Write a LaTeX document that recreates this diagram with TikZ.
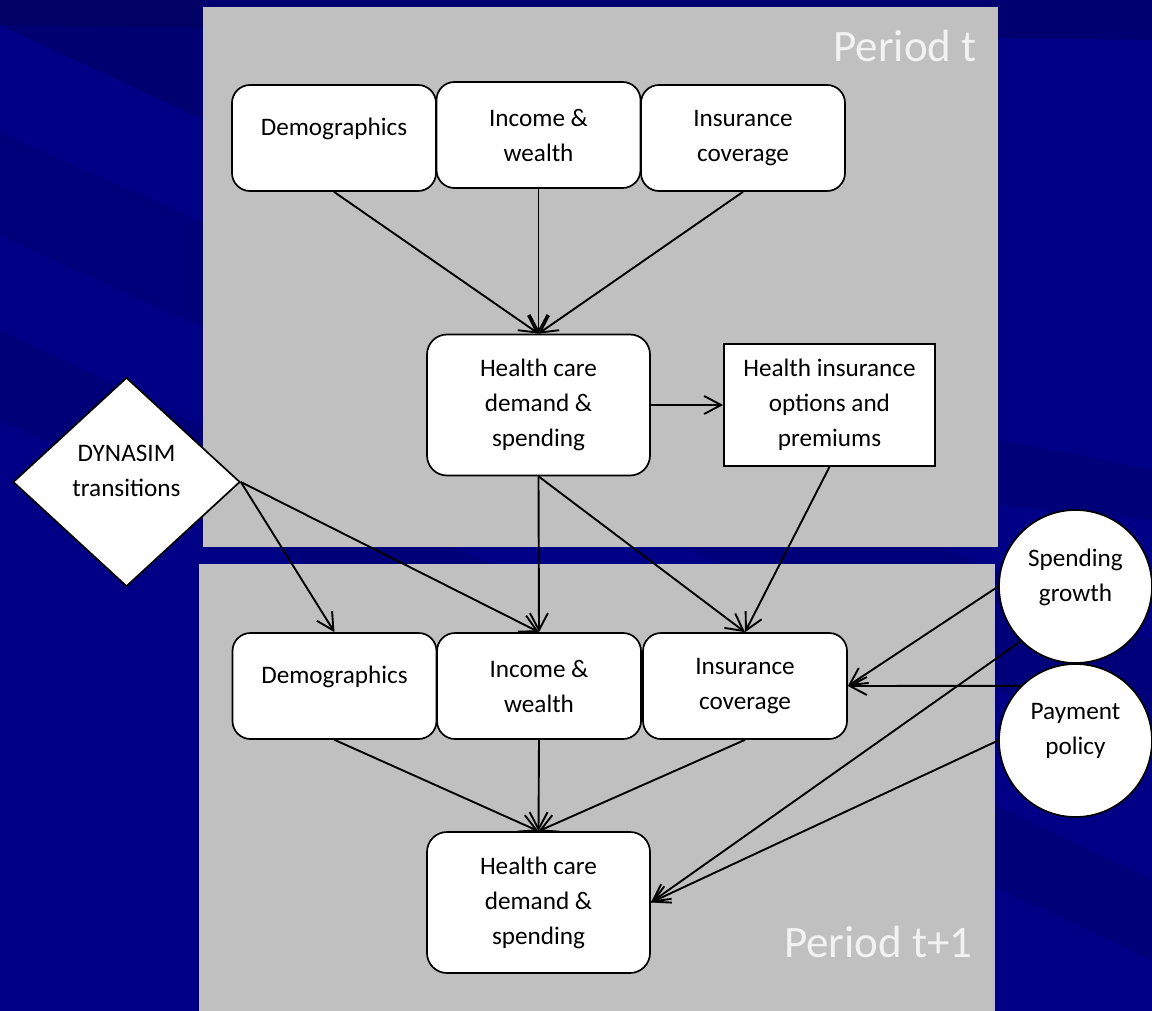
\documentclass[tikz,border=0pt]{standalone}
\usepackage{fontspec}
\setmainfont{Carlito}
\usetikzlibrary{shapes.geometric,arrows.meta}

\definecolor{slidenavy}{RGB}{0,0,134}
\definecolor{slideshade}{RGB}{0,0,92}
\definecolor{panelgray}{RGB}{192,192,192}
\newcommand{\padline}{\\[-6pt]\mbox{}}

\begin{document}
\begin{tikzpicture}[x=0.5pt,y=-0.5pt,
  txt/.style={align=center,inner sep=0pt,font=\fontsize{12.6}{17.5}\selectfont},
  cell/.style={txt,draw,fill=white,line width=0.85pt,rounded corners=9pt,
    minimum width=102pt,minimum height=53pt},
  care/.style={cell,minimum width=111.5pt,minimum height=70.5pt,rounded corners=10pt},
  plain/.style={txt,draw,fill=white,line width=0.85pt,minimum width=105.5pt,minimum height=61pt},
  round/.style={txt,circle,draw,fill=white,line width=0.85pt,minimum size=76.5pt},
  rhomb/.style={txt,diamond,draw,fill=white,line width=0.85pt,minimum width=113.5pt,minimum height=104.5pt},
  period/.style={anchor=base east,inner sep=0pt,text=white!95!black,font=\fontsize{22.5}{27}\selectfont},
  link/.style={-{Straight Barb[length=8.5pt,width=9pt]},line width=0.95pt}]

  \clip (0,0) rectangle (1152,1011);
  \fill[slidenavy] (0,0) rectangle (1152,1011);
  \fill[slideshade,opacity=0.5] (0,0) -- (1152,0) -- (1152,40) -- (0,25) -- cycle;
  \fill[slideshade,opacity=0.5] (0,0) -- (200,0) -- (200,118) -- (0,25) -- cycle;
  \fill[slideshade,opacity=0.25] (0,133) -- (0,235) -- (1152,760) -- (1152,640) -- cycle;
  \fill[slideshade,opacity=0.3] (0,330) -- (0,420) -- (1152,960) -- (1152,880) -- cycle;
  \fill[slideshade,opacity=0.3] (1000,440) -- (1152,470) -- (1152,520) -- (1000,505) -- cycle;

  \fill[panelgray] (203,7) rectangle (998,547);
  \fill[panelgray] (199,564) rectangle (995,1011);
  \node[period] (periodT) at (977,62) {Period t};
  \node[period] (periodT1) at (973,957) {Period t+1};

  \node[cell] (demo1) at (334,138) {Demographics\padline};
  \node[cell] (inc1) at (538.5,135) {Income \&\\wealth};
  \node[cell] (ins1) at (743,138) {Insurance\\coverage};
  \node[care] (health1) at (538.5,405) {Health care\\demand \&\\spending};
  \node[plain] (hins) at (829.5,405) {Health insurance\\options and\\premiums};

  \node[rhomb] (dyn) at (126.5,482) {DYNASIM\\transitions\padline};

  \node[cell] (demo2) at (334.5,686) {Demographics\padline};
  \node[cell] (inc2) at (539,686) {Income \&\\wealth};
  \node[cell] (ins2) at (745,686) {Insurance\\coverage};
  \node[care] (health2) at (538.5,902.5) {Health care\\demand \&\\spending};

  \node[round] (spend) at (1075.5,586.5) {Spending\\growth\padline};
  \node[round] (pay) at (1075.5,740.5) {Payment\\policy\padline};

  \draw[link] (demo1.south) -- (health1.north);
  \draw[link] (inc1.south) -- (health1.north);
  \draw[link] (ins1.south) -- (health1.north);
  \draw[link] (health1.east) -- (hins.west);
  \draw[link] (health1.south) -- (inc2.north);
  \draw[link] (health1.south) -- (ins2.north);
  \draw[link] (hins.south) -- (ins2.north);
  \draw[link] (dyn.east) -- (demo2.north);
  \draw[link] (dyn.east) -- (inc2.north);
  \draw[link] (spend.west) -- (ins2.east);
  \draw[link] (pay.135) -- (ins2.east);
  \draw[link] (spend.225) -- (health2.east);
  \draw[link] (pay.west) -- (health2.east);
  \draw[link] (demo2.south) -- (health2.north);
  \draw[link] (inc2.south) -- (health2.north);
  \draw[link] (ins2.south) -- (health2.north);
\end{tikzpicture}
\end{document}
